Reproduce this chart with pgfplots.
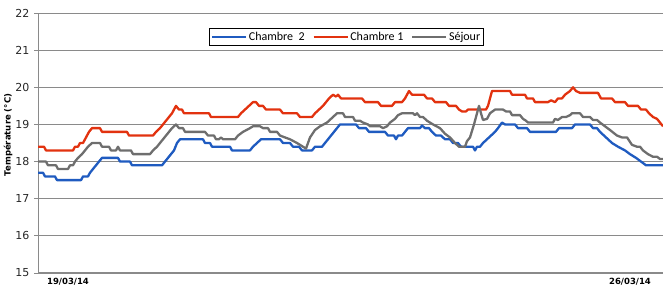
\documentclass[border=0pt]{standalone}
\usepackage{pgfplots}
\pgfplotsset{compat=1.18}
\usepackage{fontspec}
\setmainfont{DejaVu Sans}
\newfontfamily\legfont{Carlito}
\definecolor{cblue}{HTML}{1F5BC0}
\definecolor{cred}{HTML}{E2320F}
\definecolor{cgray}{HTML}{6E6E6E}
\definecolor{gridc}{HTML}{8A8A8A}
\begin{document}
\begin{tikzpicture}
\begin{axis}[
  scale only axis, width=625pt, height=260pt,
  xmin=38, xmax=663, ymin=15, ymax=22,
  axis x line=bottom, axis y line=left,
  axis line style={-, draw=gridc, line width=0.8pt},
  x axis line style={line width=1.6pt},
  ytick={15,...,22},
  ymajorgrids, grid style={draw=gridc, line width=0.8pt},
  major tick length=4pt,
  ytick style={draw=gridc, line width=0.8pt},
  tick align=outside,
  yticklabel style={font=\fontsize{11}{12}\selectfont, text=black!85, xshift=-1pt},
  /pgf/number format/assume math mode=true,
  xtick={68,630}, xticklabels={19/03/14,26/03/14},
  xtick style={draw=none},
  xticklabel style={font=\bfseries\fontsize{8.5}{9}\selectfont, yshift=2pt},
  ylabel={\bfseries Température (°C)},
  ylabel style={font=\fontsize{8.5}{9}\selectfont, at={(axis description cs:0,0.5)}, anchor=center, yshift=30pt, xshift=8pt},
  legend columns=3,
  legend style={at={(0.494,0.908)}, anchor=center, draw=black, line width=1.2pt,
    font=\legfont\fontsize{12}{13}\selectfont, inner sep=1.5pt,
    /tikz/every even column/.append style={column sep=6pt}},
  legend image code/.code={\draw[#1, line width=1.6pt] (0pt,0pt) -- (34pt,0pt);},
  every axis plot/.append style={line width=2.3pt, line join=round},
]
\addplot[cblue] coordinates {
(38,17.7)(43,17.7)(45,17.6)(55,17.6)(57,17.5)(81,17.5)(83,17.6)(88,17.6)(90,17.7)(93,17.8)(96,17.9)(99,18.0)(102,18.1)(118,18.1)(120,18.0)(130,18.0)(132,17.9)(162,17.9)(165,18.0)(168,18.1)(171,18.2)(174,18.3)(177,18.5)(180,18.6)(203,18.6)(205,18.5)(210,18.5)(212,18.4)(230,18.4)(232,18.3)(250,18.3)(253,18.4)(257,18.5)(261,18.6)(280,18.6)(283,18.5)(290,18.5)(293,18.4)(299,18.4)(302,18.3)(312,18.3)(315,18.4)(322,18.4)(325,18.5)(328,18.6)(331,18.7)(334,18.8)(337,18.9)(340,19.0)(356,19.0)(359,18.9)(366,18.9)(369,18.8)(385,18.8)(388,18.7)(394,18.7)(396,18.6)(398,18.7)(402,18.7)(405,18.8)(408,18.9)(420,18.9)(422,18.97)(425,18.9)(429,18.9)(432,18.8)(436,18.7)(441,18.7)(445,18.6)(450,18.6)(453,18.5)(458,18.5)(461,18.4)(473,18.4)(475,18.3)(477,18.4)(480,18.4)(483,18.5)(487,18.6)(491,18.7)(495,18.8)(498,18.9)(502,19.05)(505,19.0)(515,19.0)(518,18.9)(527,18.9)(530,18.8)(556,18.8)(559,18.9)(572,18.9)(575,19.0)(590,19.0)(593,18.9)(597,18.9)(600,18.8)(604,18.7)(608,18.6)(612,18.5)(618,18.4)(625,18.3)(630,18.2)(636,18.1)(641,18.0)(646,17.9)(663,17.9)
};
\addlegendentry{Chambre\ \ 2}
\addplot[cred] coordinates {
(38,18.4)(44,18.4)(46,18.3)(73,18.3)(75,18.4)(78,18.4)(80,18.5)(83,18.5)(85,18.6)(87,18.7)(89,18.8)(92,18.9)(100,18.9)(102,18.8)(127,18.8)(129,18.7)(153,18.7)(156,18.8)(160,18.9)(163,19.0)(166,19.1)(169,19.2)(172,19.3)(176,19.5)(179,19.4)(182,19.4)(184,19.3)(209,19.3)(211,19.2)(238,19.2)(241,19.3)(245,19.4)(249,19.5)(253,19.6)(256,19.6)(259,19.5)(263,19.5)(266,19.4)(280,19.4)(283,19.3)(297,19.3)(300,19.2)(312,19.2)(315,19.3)(319,19.4)(323,19.5)(326,19.6)(329,19.7)(333,19.8)(336,19.75)(338,19.8)(341,19.7)(362,19.7)(365,19.6)(378,19.6)(381,19.5)(392,19.5)(395,19.6)(402,19.6)(405,19.7)(407,19.8)(409,19.9)(412,19.8)(424,19.8)(427,19.7)(432,19.7)(435,19.6)(446,19.6)(449,19.5)(456,19.5)(459,19.4)(462,19.35)(466,19.35)(468,19.4)(486,19.4)(488,19.5)(490,19.7)(492,19.9)(510,19.9)(512,19.8)(525,19.8)(527,19.7)(533,19.7)(535,19.6)(548,19.6)(551,19.65)(555,19.6)(558,19.7)(562,19.7)(565,19.8)(570,19.9)(573,20.0)(576,19.9)(580,19.85)(598,19.85)(601,19.7)(612,19.7)(615,19.6)(625,19.6)(628,19.5)(638,19.5)(641,19.4)(646,19.4)(649,19.3)(653,19.2)(657,19.15)(663,18.95)
};
\addlegendentry{Chambre 1}
\addplot[cgray] coordinates {
(38,18.0)(46,18.0)(48,17.9)(56,17.9)(58,17.8)(68,17.8)(70,17.9)(73,17.9)(75,18.0)(78,18.1)(82,18.2)(85,18.3)(88,18.4)(92,18.5)(100,18.5)(102,18.4)(109,18.4)(111,18.3)(116,18.3)(118,18.4)(120,18.3)(131,18.3)(133,18.2)(150,18.2)(153,18.3)(157,18.4)(160,18.5)(163,18.6)(166,18.7)(169,18.8)(172,18.9)(176,19.0)(179,18.9)(183,18.9)(185,18.8)(205,18.8)(208,18.7)(214,18.7)(216,18.6)(219,18.6)(221,18.65)(223,18.6)(235,18.6)(238,18.7)(243,18.8)(250,18.9)(253,18.95)(260,18.95)(263,18.9)(268,18.9)(270,18.8)(277,18.8)(280,18.7)(285,18.65)(290,18.6)(297,18.5)(303,18.4)(306,18.35)(310,18.65)(315,18.85)(320,18.95)(327,19.05)(333,19.2)(337,19.3)(343,19.3)(345,19.2)(353,19.2)(355,19.1)(360,19.1)(363,19.05)(368,19.0)(370,18.95)(380,18.95)(383,18.9)(387,18.95)(390,19.05)(395,19.15)(398,19.25)(402,19.3)(413,19.3)(415,19.25)(417,19.3)(420,19.2)(423,19.2)(427,19.1)(433,19.0)(440,18.9)(445,18.75)(450,18.65)(455,18.5)(459,18.4)(465,18.4)(467,18.55)(470,18.65)(474,19.0)(479,19.5)(481,19.3)(483,19.12)(487,19.15)(490,19.3)(495,19.4)(503,19.4)(506,19.35)(510,19.35)(512,19.25)(520,19.25)(523,19.15)(526,19.1)(528,19.05)(553,19.05)(555,19.15)(558,19.12)(562,19.2)(566,19.2)(570,19.25)(572,19.3)(580,19.3)(583,19.2)(590,19.2)(593,19.12)(597,19.12)(600,19.05)(605,18.95)(610,18.85)(617,18.7)(622,18.65)(627,18.65)(632,18.45)(637,18.4)(640,18.4)(643,18.3)(648,18.2)(653,18.13)(657,18.13)(660,18.07)(663,18.07)
};
\addlegendentry{Séjour}
\end{axis}
\pgfresetboundingbox
\useasboundingbox (-38pt,-16pt) rectangle (625pt,273pt);
\end{tikzpicture}
\end{document}
